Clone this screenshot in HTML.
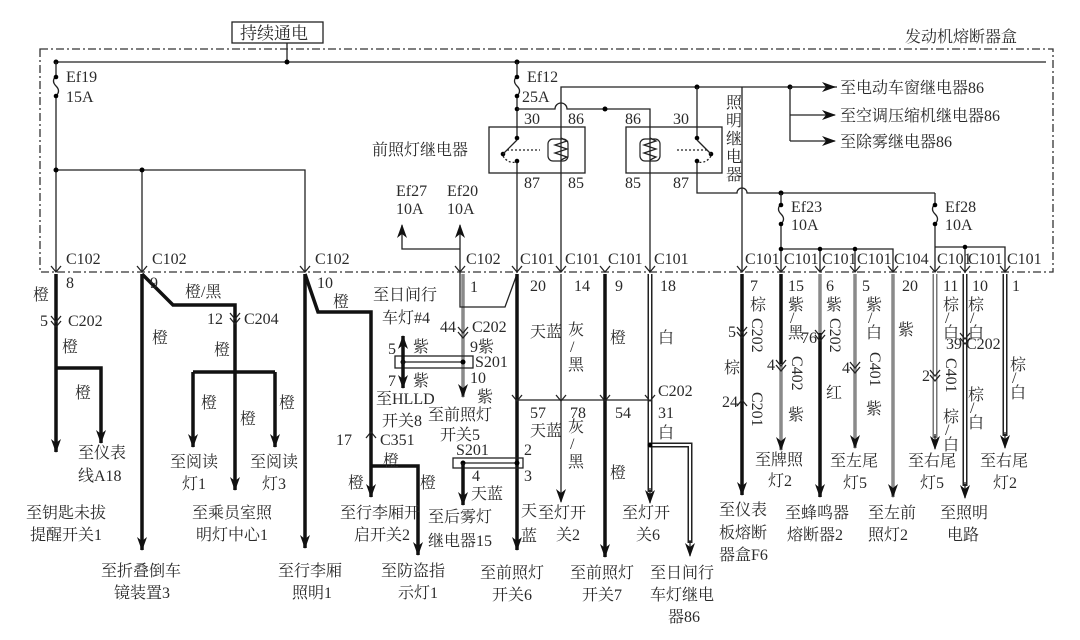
<!DOCTYPE html>
<html><head><meta charset="utf-8"><style>
html,body{margin:0;padding:0;background:#fff;}
svg{display:block}
text{font-family:"Liberation Serif","Noto Serif CJK SC",serif;font-size:16px;fill:#2a2a2a;}
.t{stroke:#222;stroke-width:1.3;fill:none}
.k{stroke:#111;stroke-width:3.5;fill:none}
.g{stroke:#8a8a8a;stroke-width:3.5;fill:none}
.d1{stroke:#222;stroke-width:5;fill:none}
.d2{stroke:#fff;stroke-width:2;fill:none}
.gd1{stroke:#777;stroke-width:5;fill:none}
.ch{stroke:#222;stroke-width:1.3;fill:none}
</style></head><body>
<svg width="1080" height="640" viewBox="0 0 1080 640" xmlns="http://www.w3.org/2000/svg">
<defs>
<marker id="a" markerUnits="userSpaceOnUse" markerWidth="14" markerHeight="10" refX="13" refY="5" orient="auto-start-reverse" viewBox="0 0 14 10"><path d="M0 0 L14 5 L0 10 L4 5 Z" fill="#111"/></marker>
</defs>
<!-- title -->
<rect x="232" y="22" width="91" height="21" fill="none" stroke="#222" stroke-width="1.3"/>
<text x="240" y="39" style="font-size:17px">持续通电</text>
<text x="905" y="42" style="font-size:16px">发动机熔断器盒</text>
<line x1="287" y1="43" x2="287" y2="62" class="t"/>
<!-- dashed box -->
<rect x="40" y="49" width="1013" height="223" fill="none" stroke="#333" stroke-width="1.3" stroke-dasharray="8,3,2,3"/>
<!-- top bus -->
<line x1="56" y1="62" x2="1046" y2="62" class="t"/>
<circle cx="56" cy="62" r="2.5"/><circle cx="287" cy="62" r="2.5"/><circle cx="517" cy="62" r="2.5"/>
<!-- Ef19 -->
<path d="M56 62 V76 q-5 5 0 10 q5 5 0 10 V272" class="t"/>
<circle cx="56" cy="77" r="2.3"/><circle cx="56" cy="96" r="2.3"/>
<text x="66" y="82">Ef19</text><text x="66" y="102">15A</text>
<path d="M56 170 H305 V272" class="t"/><path d="M142 170 V272" class="t"/>
<circle cx="56" cy="170" r="2.5"/><circle cx="142" cy="170" r="2.5"/>
<!-- Ef27 / Ef20 -->
<text x="396" y="196">Ef27</text><text x="396" y="214">10A</text>
<text x="447" y="196">Ef20</text><text x="447" y="214">10A</text>
<path d="M402 225 V249 H460" class="t" marker-start="url(#a)"/>
<path d="M460 225 V272" class="t" marker-start="url(#a)"/>
<!-- Ef12 -->
<path d="M517 62 V76 q-5 5 0 10 q5 5 0 10 V118" class="t"/>
<circle cx="517" cy="77" r="2.3"/><circle cx="517" cy="96" r="2.3"/><circle cx="517" cy="109" r="2.3"/>
<text x="527" y="82">Ef12</text><text x="522" y="102">25A</text>
<path d="M517 109 H555 a6 6 0 0 1 12 0 H650 V118" class="t"/>
<circle cx="605" cy="109" r="2.5"/>
<path d="M561 118 V87 H1000" class="t"/>
<circle cx="697" cy="87" r="2.5"/><circle cx="790" cy="87" r="2.5"/>
<path d="M697 87 V118" class="t"/>
<path d="M790 87 V141" class="t"/>
<path d="M790 87 H835" class="t" marker-end="url(#a)"/>
<path d="M790 115 H835" class="t" marker-end="url(#a)"/>
<path d="M790 141 H835" class="t" marker-end="url(#a)"/>
<rect x="837" y="78" width="180" height="18" fill="#fff"/>
<text x="840" y="93">至电动车窗继电器86</text>
<text x="840" y="121">至空调压缩机继电器86</text>
<text x="840" y="147">至除雾继电器86</text>
<!-- relay 1 -->
<rect x="489" y="127" width="96" height="46" fill="none" stroke="#222" stroke-width="1.3"/>
<text x="372" y="155">前照灯继电器</text>
<text x="524" y="124">30</text><text x="568" y="124">86</text>
<text x="524" y="188">87</text><text x="568" y="188">85</text>
<path d="M517 118 V136 M517 163 V272 M561 118 V272" class="t"/>
<circle cx="517" cy="138" r="2.3"/><circle cx="503" cy="154" r="2.3"/><circle cx="517" cy="161" r="2.3"/>
<path d="M503 154 L517 140" class="t"/>
<path d="M507 150 H540 M503 156 q5 8 14 6" class="t" stroke-dasharray="2,2"/>
<path d="M561 138 l6 3 l-12 4 l12 4 l-12 4 l12 4 l-6 3" class="t"/>
<rect x="548" y="139" width="20" height="22" rx="5" fill="none" stroke="#222" stroke-width="1.2"/>
<!-- relay 2 -->
<rect x="626" y="127" width="96" height="46" fill="none" stroke="#222" stroke-width="1.3"/>
<text x="625" y="124">86</text><text x="673" y="124">30</text>
<text x="625" y="188">85</text><text x="673" y="188">87</text>
<path d="M650 118 V272 M697 118 V136 M697 163 V193 H737 a5 5 0 0 1 10 0 H935" class="t"/>
<circle cx="697" cy="138" r="2.3"/><circle cx="711" cy="154" r="2.3"/><circle cx="697" cy="161" r="2.3"/>
<path d="M711 154 L697 140" class="t"/>
<path d="M707 150 H675 M711 156 q-5 8 -14 6" class="t" stroke-dasharray="2,2"/>
<path d="M650 138 l6 3 l-12 4 l12 4 l-12 4 l12 4 l-6 3" class="t"/>
<rect x="640" y="139" width="20" height="22" rx="5" fill="none" stroke="#222" stroke-width="1.2"/>
<text x="726" y="108">照</text><text x="726" y="126">明</text><text x="726" y="144">继</text><text x="726" y="162">电</text><text x="726" y="180">器</text>
<path d="M742 87 V272" class="t"/>
<!-- Ef23 / Ef28 -->
<circle cx="781" cy="193" r="2.5"/>
<path d="M781 193 V204 q-5 5 0 10 q5 5 0 10 V272" class="t"/>
<circle cx="781" cy="205" r="2.3"/><circle cx="781" cy="224" r="2.3"/>
<text x="791" y="212">Ef23</text><text x="791" y="230">10A</text>
<path d="M781 249 H893 V272 M820 249 V272 M855 249 V272" class="t"/>
<circle cx="781" cy="249" r="2.3"/><circle cx="820" cy="249" r="2.3"/><circle cx="855" cy="249" r="2.3"/>
<path d="M935 193 V204 q-5 5 0 10 q5 5 0 10 V272" class="t"/>
<circle cx="935" cy="205" r="2.3"/><circle cx="935" cy="224" r="2.3"/>
<text x="945" y="212">Ef28</text><text x="945" y="230">10A</text>
<path d="M935 247 H1005 V272 M965 247 V272" class="t"/>
<circle cx="965" cy="247" r="2.3"/>
<!-- connector labels -->
<text x="66" y="264">C102</text><text x="152" y="264">C102</text><text x="315" y="264">C102</text><text x="466" y="264">C102</text>
<text x="520" y="264">C101</text><text x="565" y="264">C101</text><text x="608" y="264">C101</text><text x="654" y="264">C101</text>
<text x="745" y="264">C101</text><text x="784" y="264">C101</text><text x="822" y="264">C101</text><text x="857" y="264">C101</text><text x="894" y="264">C104</text>
<text x="937" y="264">C101</text><text x="968" y="264">C101</text><text x="1007" y="264">C101</text>
<!-- chevrons at dashed line -->
<path d="M51 266 l5 6 l5 -6 M137 266 l5 6 l5 -6 M300 266 l5 6 l5 -6 M455 266 l5 6 l5 -6 M512 266 l5 6 l5 -6 M556 266 l5 6 l5 -6 M600 266 l5 6 l5 -6 M645 266 l5 6 l5 -6 M737 266 l5 6 l5 -6 M776 266 l5 6 l5 -6 M815 266 l5 6 l5 -6 M850 266 l5 6 l5 -6 M888 266 l5 6 l5 -6 M930 266 l5 6 l5 -6 M960 266 l5 6 l5 -6 M1000 266 l5 6 l5 -6" class="ch"/>
<!-- x=56 -->
<path d="M56 274 V452" class="k" marker-end="url(#a)"/>
<path d="M56 368 H101 V443" class="k" marker-end="url(#a)"/>
<text x="33" y="300">橙</text><text x="66" y="288">8</text><text x="40" y="326">5</text><text x="68" y="326">C202</text>
<text x="62" y="352">橙</text><text x="75" y="398">橙</text>
<text x="78" y="458">至仪表</text><text x="78" y="481">线A18</text>
<text x="26" y="518">至钥匙未拔</text><text x="30" y="540">提醒开关1</text>
<!-- x=142 -->
<path d="M142 274 V550" class="k" marker-end="url(#a)"/>
<path d="M142 274 L173 305 H235 V490" class="k" marker-end="url(#a)"/>
<path d="M193 372 H275 M193 372 V447" class="k" marker-end="url(#a)"/>
<path d="M275 372 V447" class="k" marker-end="url(#a)"/>
<text x="150" y="288">9</text><text x="185" y="297">橙/黑</text><text x="207" y="324">12</text><text x="244" y="324">C204</text>
<text x="152" y="343">橙</text><text x="214" y="355">橙</text><text x="201" y="408">橙</text><text x="279" y="408">橙</text><text x="240" y="424">橙</text>
<text x="170" y="467">至阅读</text><text x="182" y="489">灯1</text>
<text x="250" y="467">至阅读</text><text x="262" y="489">灯3</text>
<text x="192" y="518">至乘员室照</text><text x="196" y="540">明灯中心1</text>
<text x="101" y="576">至折叠倒车</text><text x="114" y="598">镜装置3</text>
<!-- x=305 -->
<path d="M305 274 V548" class="k" marker-end="url(#a)"/>
<path d="M305 274 L318 312 H371 V497" class="k" marker-end="url(#a)"/>
<path d="M371 466 H418 V555" class="k" marker-end="url(#a)"/>
<text x="317" y="288">10</text><text x="333" y="307">橙</text>
<text x="336" y="445">17</text><text x="380" y="445">C351</text><text x="383" y="466">橙</text>
<text x="348" y="488">橙</text><text x="420" y="488">橙</text>
<text x="340" y="518">至行李厢开</text><text x="354" y="540">启开关2</text>
<text x="381" y="576">至防盗指</text><text x="398" y="598">示灯1</text>
<text x="278" y="576">至行李厢</text><text x="292" y="598">照明1</text>
<!-- x=460 gray -->
<path d="M463 274 V397" class="g" marker-end="url(#a)"/>
<path d="M460 272 V307 H505 L517 274" class="t"/>
<rect x="395" y="356" width="78" height="12" fill="none" stroke="#222" stroke-width="1.3"/>
<line x1="403" y1="362" x2="463" y2="362" class="t"/>
<circle cx="403" cy="362" r="2.5"/><circle cx="463" cy="362" r="2.5"/>
<path d="M403 362 V336" class="k" marker-end="url(#a)"/><path d="M403 362 V388" class="k" marker-end="url(#a)"/>
<text x="470" y="292">1</text>
<text x="373" y="300">至日间行</text><text x="382" y="323">车灯#4</text>
<text x="440" y="332">44</text><text x="472" y="332">C202</text>
<text x="470" y="352">9紫</text><text x="475" y="367">S201</text>
<text x="388" y="354">5</text><text x="413" y="352">紫</text><text x="388" y="386">7</text><text x="413" y="386">紫</text>
<text x="470" y="383">10</text><text x="477" y="402">紫</text>
<text x="376" y="404">至HLLD</text><text x="382" y="426">开关8</text>
<text x="428" y="420">至前照灯</text><text x="440" y="440">开关5</text>
<!-- x=517 -->
<path d="M517 274 V550" class="k" marker-end="url(#a)"/>
<path d="M517 400 H650" class="t"/>
<rect x="453" y="458" width="70" height="10" fill="none" stroke="#222" stroke-width="1.3"/>
<line x1="463" y1="463" x2="517" y2="463" class="t"/>
<circle cx="463" cy="463" r="2.5"/><circle cx="517" cy="463" r="2.5"/>
<path d="M463 463 V505" class="k" marker-end="url(#a)"/>
<text x="530" y="291">20</text><text x="530" y="337">天蓝</text><text x="530" y="418">57</text><text x="530" y="436">天蓝</text>
<text x="456" y="455">S201</text><text x="524" y="455">2</text><text x="524" y="481">3</text>
<text x="472" y="481">4</text><text x="471" y="499">天蓝</text>
<text x="428" y="522">至后雾灯</text><text x="428" y="546">继电器15</text>
<text x="521" y="516">天</text><text x="521" y="541">蓝</text>
<text x="480" y="578">至前照灯</text><text x="492" y="600">开关6</text>
<!-- x=561 -->
<path d="M561 274 V502" class="t" marker-end="url(#a)"/>
<text x="574" y="291">14</text><text x="568" y="335">灰</text><text x="570" y="352">/</text><text x="568" y="370">黑</text>
<text x="570" y="418">78</text><text x="568" y="432">灰</text><text x="570" y="449">/</text><text x="568" y="467">黑</text>
<text x="538" y="518">至灯开</text><text x="556" y="540">关2</text>
<!-- x=605 -->
<path d="M605 274 V557" class="k" marker-end="url(#a)"/>
<text x="615" y="291">9</text><text x="610" y="343">橙</text><text x="615" y="418">54</text><text x="610" y="478">橙</text>
<text x="570" y="578">至前照灯</text><text x="582" y="600">开关7</text>
<!-- x=650 -->
<path d="M650 274 V492" class="d1"/><path d="M650 274 V490" class="d2"/>
<path d="M650 445 H690 V543" class="d1"/><path d="M650 445 H690 V541" class="d2"/>
<path d="M650 488 V503" class="t" marker-end="url(#a)"/><path d="M690 540 V556" class="t" marker-end="url(#a)"/>
<circle cx="650" cy="445" r="2.5"/>
<text x="660" y="291">18</text><text x="658" y="343">白</text><text x="658" y="396">C202</text><text x="658" y="418">31</text><text x="658" y="438">白</text>
<text x="622" y="518">至灯开</text><text x="636" y="540">关6</text>
<text x="650" y="578">至日间行</text><text x="650" y="600">车灯继电</text><text x="668" y="622">器86</text>
<!-- x=742 -->
<path d="M742 274 V495" class="k" marker-end="url(#a)"/>
<text x="750" y="291">7</text><text x="750" y="310">棕</text>
<text transform="translate(752,318) rotate(90)">C202</text>
<text x="728" y="337">5</text><text x="724" y="373">棕</text><text x="722" y="407">24</text>
<text transform="translate(752,392) rotate(90)">C201</text>
<text x="719" y="515">至仪表</text><text x="719" y="538">板熔断</text><text x="719" y="560">器盒F6</text>
<!-- x=781 -->
<path d="M781 274 V364" class="k"/><path d="M781 364 V450" class="g" marker-end="url(#a)"/>
<text x="788" y="291">15</text><text x="788" y="310">紫</text><text x="790" y="323">/</text><text x="788" y="338">黑</text>
<text x="767" y="370">4</text><text transform="translate(792,356) rotate(90)">C402</text><text x="788" y="420">紫</text>
<text x="755" y="465">至牌照</text><text x="768" y="486">灯2</text>
<!-- x=820 -->
<path d="M820 274 V333" class="g"/><path d="M820 333 V497" class="k" marker-end="url(#a)"/>
<text x="826" y="291">6</text><text x="826" y="310">紫</text><text transform="translate(830,318) rotate(90)">C202</text>
<text x="801" y="343">76</text><text x="826" y="398">红</text>
<text x="785" y="518">至蜂鸣器</text><text x="787" y="540">熔断器2</text>
<!-- x=855 -->
<path d="M855 274 V448" class="g" marker-end="url(#a)"/>
<text x="862" y="291">5</text><text x="866" y="310">紫</text><text x="868" y="323">/</text><text x="866" y="338">白</text>
<text x="842" y="373">4</text><text transform="translate(870,352) rotate(90)">C401</text><text x="866" y="414">紫</text>
<text x="830" y="466">至左尾</text><text x="843" y="488">灯5</text>
<!-- x=893 -->
<path d="M893 274 V497" class="g" marker-end="url(#a)"/>
<text x="902" y="291">20</text><text x="898" y="335">紫</text>
<text x="868" y="518">至左前</text><text x="868" y="540">照灯2</text>
<!-- x=935 -->
<path d="M935 274 V438" class="gd1"/><path d="M935 274 V436" class="d2"/>
<path d="M935 434 V449" class="t" marker-end="url(#a)"/>
<text x="943" y="291">11</text><text x="943" y="310">棕</text><text x="945" y="323">/</text><text x="943" y="338">白</text>
<text x="922" y="381">2</text><text transform="translate(946,358) rotate(90)">C401</text>
<text x="943" y="422">棕</text><text x="945" y="435">/</text><text x="943" y="450">白</text>
<text x="908" y="466">至右尾</text><text x="920" y="488">灯5</text>
<!-- x=965 -->
<path d="M965 274 V486" class="d1"/><path d="M965 274 V484" class="d2"/>
<path d="M965 482 V498" class="t" marker-end="url(#a)"/>
<text x="972" y="291">10</text><text x="968" y="310">棕</text><text x="970" y="323">/</text><text x="968" y="338">白</text>
<text x="946" y="349">39</text><text x="966" y="349">C202</text>
<text x="968" y="400">棕</text><text x="970" y="413">/</text><text x="968" y="428">白</text>
<text x="940" y="518">至照明</text><text x="947" y="540">电路</text>
<!-- x=1005 -->
<path d="M1005 274 V436" class="d1"/><path d="M1005 274 V434" class="d2"/>
<path d="M1005 432 V448" class="t" marker-end="url(#a)"/>
<text x="1012" y="291">1</text><text x="1010" y="370">棕</text><text x="1012" y="383">/</text><text x="1010" y="398">白</text>
<text x="980" y="466">至右尾</text><text x="993" y="488">灯2</text>
<!-- small chevrons on wires -->
<path d="M51 316 l5 6 l5 -6 M51 321 l5 6 l5 -6 M230 313 l5 6 l5 -6 M230 318 l5 6 l5 -6 M458 327 l5 6 l5 -6 M458 332 l5 6 l5 -6 M512 395 l5 6 l5 -6 M556 395 l5 6 l5 -6 M600 395 l5 6 l5 -6 M645 395 l5 6 l5 -6 M737 327 l5 6 l5 -6 M737 332 l5 6 l5 -6 M737 406 l5 -6 l5 6 M366 438 l5 -6 l5 6 M776 360 l5 6 l5 -6 M776 365 l5 6 l5 -6 M815 330 l5 6 l5 -6 M815 335 l5 6 l5 -6 M850 362 l5 6 l5 -6 M850 367 l5 6 l5 -6 M930 370 l5 6 l5 -6 M930 375 l5 6 l5 -6 M960 333 l5 6 l5 -6 M960 338 l5 6 l5 -6" class="ch"/>
</svg>
</body></html>
